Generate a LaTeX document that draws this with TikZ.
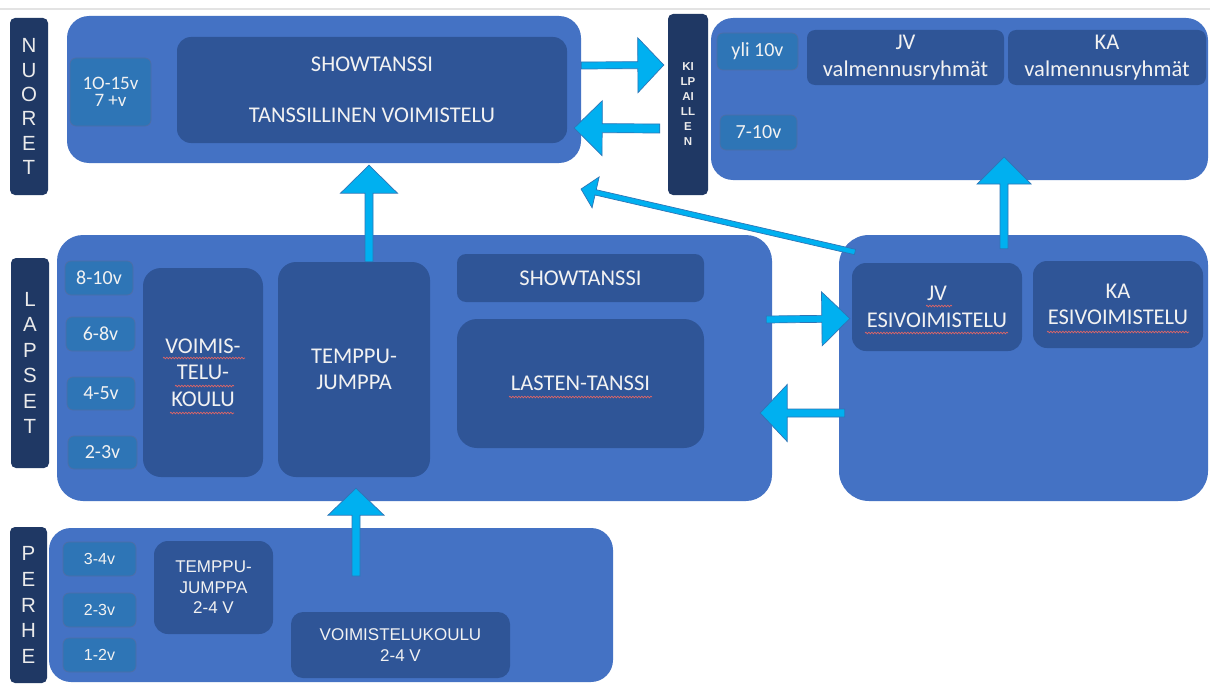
\documentclass[tikz,border=0pt]{standalone}
\usepackage{fontspec}
\setmainfont{Carlito}
\newfontfamily\arialf{Liberation Sans}
\usetikzlibrary{calc,decorations.pathmorphing}
\definecolor{bigblue}{HTML}{4472C4}
\definecolor{innerblue}{HTML}{2F5597}
\definecolor{ageblue}{HTML}{2E75B6}
\definecolor{navy}{HTML}{1F3864}
\definecolor{arrowcyan}{HTML}{00B0F0}
\definecolor{arrowedge}{HTML}{2E75B6}
\definecolor{txt}{HTML}{F2F2F2}
\definecolor{wavered}{HTML}{E06666}
\definecolor{topline}{HTML}{E3E3E3}

\tikzset{
 bigbox/.style={fill=bigblue, rounded corners=22pt, inner sep=0pt},
 innerbox/.style={fill=innerblue, rounded corners=14pt, inner sep=0pt, text=txt, align=center, font=\fontsize{22.5}{26.5}\selectfont},
 agebox/.style={fill=ageblue, draw=innerblue!85, line width=0.7pt, rounded corners=6pt, inner sep=0pt, text=txt, align=center, font=\fontsize{20}{18}\selectfont},
 pagebox/.style={agebox, font=\arialf\fontsize{16}{18}\selectfont},
 pinner/.style={innerbox, font=\arialf\fontsize{17}{20.5}\selectfont},
 sidelbl/.style={fill=navy, rounded corners=5pt, inner sep=0pt, text=white!92!black, align=center, font=\arialf\fontsize{20.5}{25.5}\selectfont},
 barrowstyle/.style={fill=arrowcyan, draw=arrowedge, line width=0.7pt, line join=miter},
 squig/.style={draw=wavered, line width=0.7pt, decorate, decoration={snake, amplitude=0.8pt, segment length=3pt}},
}

% style, name, x1, y1, x2, y2, text
\newcommand\rbox[7]{\node[#1, minimum width={(#5)-(#3)}, minimum height={(#6)-(#4)}] (#2) at ({((#3)+(#5))/2},{((#4)+(#6))/2}) {#7};}

% tail, tip, half shaft, half head, head length
\newcommand\blockarrow[5]{%
 \coordinate (ba-h) at ($(#2)!#5!(#1)$);
 \draw[barrowstyle] ($(#1)!#3!90:(#2)$) -- ($(ba-h)!#3!-90:(#1)$) -- ($(ba-h)!#4!-90:(#1)$) -- (#2) -- ($(ba-h)!#4!90:(#1)$) -- ($(ba-h)!#3!90:(#1)$) -- ($(#1)!#3!-90:(#2)$) -- cycle;}

\begin{document}
\begin{tikzpicture}[x=1pt,y=-1pt]
\useasboundingbox[fill=white] (0,0) rectangle (1210,693);
\draw[topline, line width=2.2pt] (0,9) -- (1210,9);

% ---------- NUORET ----------
\rbox{sidelbl, font=\arialf\fontsize{20.5}{24.3}\selectfont}{nuoretLbl}{10}{18}{48}{195}{N\\U\\O\\R\\E\\T}
\rbox{bigbox}{nuoretBox}{67}{16}{581}{163}{}
\rbox{agebox, font=\fontsize{19}{17.5}\selectfont}{nAge}{70}{58}{151}{126}{1O-15v\\7 +v}
\rbox{innerbox}{nShow}{177}{37}{567}{143}{SHOWTANSSI\\[24.5pt]TANSSILLINEN VOIMISTELU}

% ---------- KILPAILLEN ----------
\rbox{sidelbl, font=\arialf\bfseries\fontsize{11.5}{15}\selectfont}{kilpLbl}{668}{14}{708}{195}{KI\\LP\\AI\\LL\\E\\N}
\rbox{bigbox}{trBox}{711}{18}{1208}{180}{}
\rbox{agebox}{yli}{717}{33}{798}{70}{yli 10v}
\rbox{innerbox, rounded corners=8pt}{jvVal}{807}{30}{1004}{85}{JV\\valmennusryhmät}
\rbox{innerbox, rounded corners=8pt}{kaVal}{1008}{30}{1206}{85}{KA\\valmennusryhmät}
\rbox{agebox}{ageSeven}{720}{115}{797}{150}{7-10v}

% ---------- LAPSET ----------
\rbox{sidelbl}{lapsetLbl}{11}{258}{49}{468}{L\\A\\P\\S\\E\\T}
\rbox{bigbox, rounded corners=26pt}{lapsetBox}{57}{235}{772}{501}{}
\rbox{agebox}{lEight}{65}{261}{133}{295}{8-10v}
\rbox{agebox}{lSix}{66}{317}{135}{351}{6-8v}
\rbox{agebox}{lFour}{67}{377}{135}{410}{4-5v}
\rbox{agebox}{lTwo}{68}{436}{137}{469}{2-3v}
\rbox{innerbox, rounded corners=18pt}{voimis}{143}{268}{263}{477}{VOIMIS-\\TELU-\\KOULU}
\rbox{innerbox, rounded corners=18pt}{temppu}{278}{262}{430}{477}{TEMPPU-\\JUMPPA}
\rbox{innerbox, rounded corners=9pt}{lShow}{457}{254}{704}{302}{SHOWTANSSI}
\rbox{innerbox, rounded corners=20pt}{lasten}{457}{319}{704}{448}{LASTEN-TANSSI}

% ---------- ESIVOIMISTELU ----------
\rbox{bigbox, rounded corners=30pt}{esiBox}{839}{235}{1208}{501}{}
\rbox{innerbox}{jvEsi}{852}{263}{1022}{351}{JV\\ESIVOIMISTELU}
\rbox{innerbox}{kaEsi}{1033}{261}{1203}{348}{KA\\ESIVOIMISTELU}

% ---------- PERHE ----------
\rbox{sidelbl, font=\arialf\fontsize{20.5}{25.8}\selectfont}{perheLbl}{10}{527}{47}{683}{P\\E\\R\\H\\E}
\rbox{bigbox}{perheBox}{49}{528}{613}{682}{}
\rbox{pagebox}{pThree}{63}{542}{136}{576}{3-4v}
\rbox{pagebox}{pTwo}{63}{593}{136}{627}{2-3v}
\rbox{pagebox}{pOne}{63}{638}{136}{672}{1-2v}
\rbox{pinner, rounded corners=14pt}{pTemppu}{154}{541}{273}{634}{TEMPPU-\\JUMPPA\\2-4 V}
\rbox{pinner, rounded corners=12pt}{pVoim}{291}{612}{510}{678}{VOIMISTELUKOULU\\2-4 V}

% ---------- spell-check underlines ----------
\path[squig] (163,358) -- (245,358);
\path[squig] (175,386) -- (234,386);
\path[squig] (170,413) -- (234,413);
\path[squig] (509,397) -- (652,397);
\path[squig] (926,306) -- (952,306);
\path[squig] (865,333) -- (1008,333);
\path[squig] (1047,332) -- (1189,332);

% ---------- arrows ----------
\coordinate (a1s) at (nuoretBox.east |- 0,65.5);
\coordinate (a1e) at ($(kilpLbl.west |- 0,65)+(-4,0)$);
\blockarrow{a1s}{a1e}{3.5pt}{27.5pt}{26pt}

\coordinate (a2s) at ($(kilpLbl.west |- 0,128.5)+(-8,0)$);
\coordinate (a2e) at ($(nuoretBox.east |- 0,128)+(-7,0)$);
\blockarrow{a2s}{a2e}{4.5pt}{27.5pt}{28pt}

\coordinate (a3s) at (temppu.north -| 369,0);
\coordinate (a3e) at ($(nuoretBox.south -| 369,0)+(0,2)$);
\blockarrow{a3s}{a3e}{4pt}{28.5pt}{28pt}

\coordinate (a4s) at ($(esiBox.north -| 1004,0)+(0,14)$);
\coordinate (a4e) at (1004,157);
\blockarrow{a4s}{a4e}{4pt}{27pt}{27pt}

\coordinate (a5s) at (356,576);
\coordinate (a5e) at ($(lapsetBox.south -| 356,0)+(0,-13)$);
\blockarrow{a5s}{a5e}{4pt}{28pt}{27pt}

\coordinate (a6s) at ($(lapsetBox.east |- 0,319.5)+(-6,0)$);
\coordinate (a6e) at ($(jvEsi.west |- 0,318.5)+(-2,0)$);
\blockarrow{a6s}{a6e}{3.5pt}{27pt}{28pt}

\coordinate (a7s) at ($(esiBox.west |- 0,413)+(6,0)$);
\coordinate (a7e) at ($(lapsetBox.east |- 0,413)+(-12,0)$);
\blockarrow{a7s}{a7e}{4pt}{28.5pt}{27pt}

\coordinate (a8s) at (855,252);
\coordinate (a8e) at (581,189);
\blockarrow{a8s}{a8e}{2.7pt}{15.8pt}{15pt}
\end{tikzpicture}
\end{document}
